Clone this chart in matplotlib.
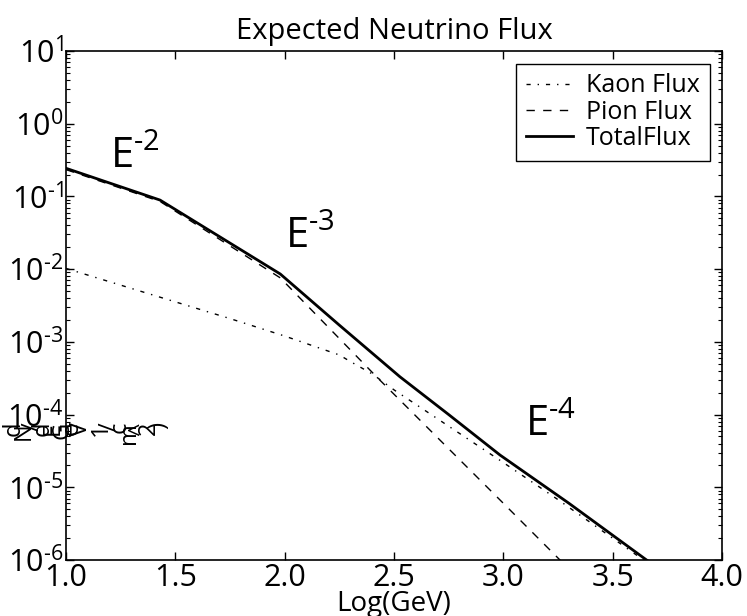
import numpy as np
import matplotlib
matplotlib.use("Agg")
import matplotlib.pyplot as plt
from matplotlib.ticker import FuncFormatter

plt.rcParams['font.family'] = ['Open Sans', 'DejaVu Sans']
plt.rcParams['mathtext.fontset'] = 'custom'
plt.rcParams['mathtext.rm'] = 'Open Sans'
plt.rcParams['mathtext.it'] = 'Open Sans'
plt.rcParams['mathtext.default'] = 'regular'

# ---- data (x = log10(E/GeV), y = log10 flux) ----
kaon_x = [1.0, 1.25, 1.5, 1.75, 2.0, 2.25, 2.3, 2.4, 2.5, 2.75, 3.0, 3.25, 3.5, 3.655, 3.7]
kaon_logy = [-1.99, -2.22, -2.45, -2.68, -2.92, -3.18, -3.27, -3.44, -3.66, -4.16, -4.66, -5.17, -5.70, -6.03, -6.12]

pion_x = [1.0, 1.43, 1.98, 2.42, 2.75, 3.0, 3.259, 3.5, 3.7]
pion_logy = [-0.631, -1.069, -2.12, -3.48, -4.47, -5.22, -6.0, -6.72, -7.32]

total_x = [1.0, 1.43, 1.98, 2.25, 2.527, 2.75, 2.985, 3.3, 3.655, 3.7]
total_logy = [-0.613, -1.05, -2.067, -2.77, -3.48, -4.0, -4.557, -5.22, -6.0, -6.09]

series_labels = ["Kaon Flux", "Pion Flux", "TotalFlux"]
annot_exp = ["-2", "-3", "-4"]
annot_x = [1.2, 2.0, 3.1]
annot_logy = [-0.61, -1.71, -4.30]
ylabel_chars = list("dN/dEGeV 1/cm^2)")
xtick_vals = [1.0, 1.5, 2.0, 2.5, 3.0, 3.5, 4.0]


def sup(exp_str):
    # superscript with a plain hyphen like the reference
    return exp_str.replace("-", r"\text{-}")


def log_fmt(v, pos):
    e = int(round(np.log10(v)))
    return r"10$^{%s}$" % sup(str(e))


fig = plt.figure(figsize=(7.47, 6.16), dpi=100)
ax = fig.add_axes([66/747, 56/616, (722-66)/747, (560-51)/616])

ax.plot(kaon_x, 10**np.array(kaon_logy), color='black', lw=1.0,
        linestyle=(0, (3, 5, 1, 5)), label=series_labels[0])
ax.plot(pion_x, 10**np.array(pion_logy), color='black', lw=1.0,
        linestyle=(0, (6, 6)), label=series_labels[1])
ax.plot(total_x, 10**np.array(total_logy), color='black', lw=2.0,
        linestyle='-', label=series_labels[2])

ax.set_yscale('log')
ax.set_xlim(1.0, 4.0)
ax.set_ylim(1e-6, 1e1)
ax.yaxis.set_major_formatter(FuncFormatter(log_fmt))
ax.yaxis.set_minor_formatter(FuncFormatter(lambda v, p: ""))
ax.set_xticks(xtick_vals)
ax.set_xticklabels(["%.1f" % v for v in xtick_vals])
ax.tick_params(which='both', direction='in', top=True, right=True,
               labelsize=22, pad=2)
ax.tick_params(which='major', length=6, width=1)
ax.tick_params(which='minor', length=3, width=0.8)
for s in ax.spines.values():
    s.set_linewidth(1.2)

ax.set_title("Expected Neutrino Flux", fontsize=21, pad=9)
ax.set_xlabel("Log(GeV)", fontsize=20, labelpad=-2)

for e, xx, yy in zip(annot_exp, annot_x, annot_logy):
    ax.text(xx, 10**yy, r"E$^{%s}$" % sup(e), fontsize=30,
            ha='left', va='baseline')

leg = ax.legend(loc='upper right', fontsize=18, frameon=True, fancybox=False,
                framealpha=1, edgecolor='black', handlelength=1.9,
                labelspacing=0.05, borderaxespad=0.5, borderpad=0.4,
                handletextpad=0.5)
leg.get_frame().set_linewidth(1.0)

# broken, rotated y-label as in the reference
x0 = 2
for i, ch in enumerate(ylabel_chars):
    fig.text((x0 + 9.6*i)/747, (616-422)/616, ch, rotation=90,
             fontsize=17, ha='left', va='top')

fig.savefig("out.png", dpi=100)
